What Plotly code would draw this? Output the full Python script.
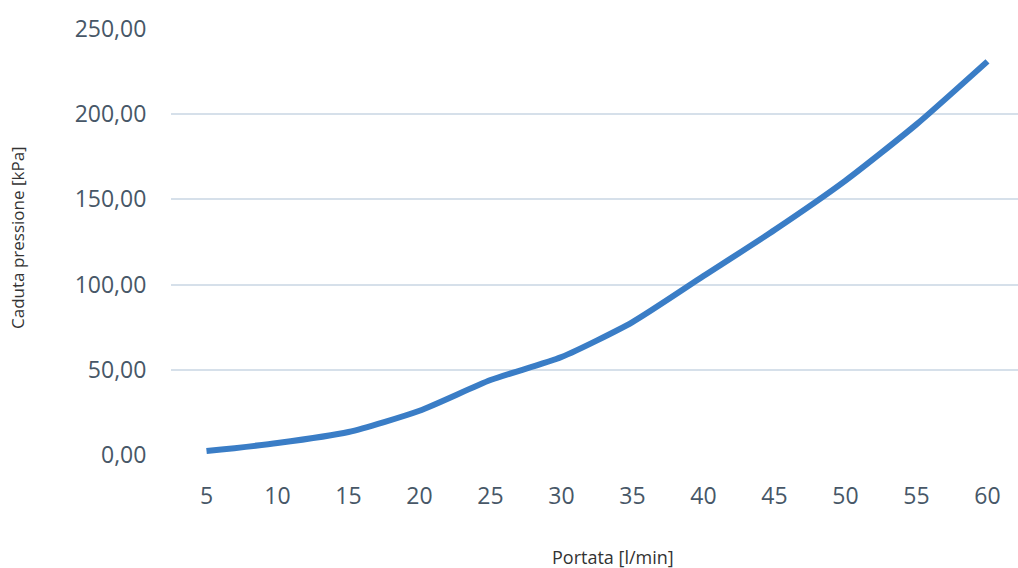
import plotly.graph_objects as go

# Portata (l/min) and caduta di pressione (kPa)
portata = ["5", "10", "15", "20", "25", "30", "35", "40", "45", "50", "55", "60"]
caduta_kpa = [2.3, 7.0, 13.5, 26.0, 44.0, 57.5, 78.0, 105.0, 132.0, 161.0, 194.0, 231.0]
y_ticks = [0, 50, 100, 150, 200, 250]
y_tick_text = ["0,00", "50,00", "100,00", "150,00", "200,00", "250,00"]

tick_color = "#475767"
grid_color = "#d6e0ea"

fig = go.Figure()
fig.add_trace(go.Scatter(
    x=list(range(len(portata))),
    y=caduta_kpa,
    mode="lines",
    line=dict(color="#3a7dc6", width=6, shape="spline", smoothing=0.6),
    hoverinfo="skip",
    showlegend=False,
))

fig.update_layout(
    width=1018,
    height=568,
    margin=dict(l=171, r=0, t=29, b=113),
    paper_bgcolor="white",
    plot_bgcolor="white",
    font=dict(family="Open Sans", color=tick_color),
    xaxis=dict(
        range=[-0.5, 11.43],
        tickmode="array",
        tickvals=list(range(len(portata))),
        ticktext=portata,
        showgrid=False,
        zeroline=False,
        showline=False,
        ticks="outside",
        ticklen=20,
        tickcolor="rgba(0,0,0,0)",
        tickfont=dict(size=23, color=tick_color),
    ),
    yaxis=dict(
        range=[0, 250],
        tickmode="array",
        tickvals=y_ticks,
        ticktext=y_tick_text,
        showgrid=True,
        gridcolor=grid_color,
        gridwidth=2,
        zeroline=False,
        showline=False,
        ticks="outside",
        ticklen=19,
        tickcolor="rgba(0,0,0,0)",
        tickfont=dict(size=23, color=tick_color),
    ),
    annotations=[
        dict(
            text="Portata [l/min]", xref="paper", yref="paper",
            x=(613 - 171) / 847, y=-(557 - 455) / 426,
            showarrow=False, xanchor="center", yanchor="middle",
            font=dict(family="Open Sans", size=18, color="#333333"),
        ),
        dict(
            text="Caduta pressione [kPa]", xref="paper", yref="paper",
            x=-(171 - 17) / 847, y=(455 - 238) / 426, textangle=-90,
            showarrow=False, xanchor="center", yanchor="middle",
            font=dict(family="Open Sans", size=17, color="#333333"),
        ),
    ],
)

fig.write_html("out.html")
